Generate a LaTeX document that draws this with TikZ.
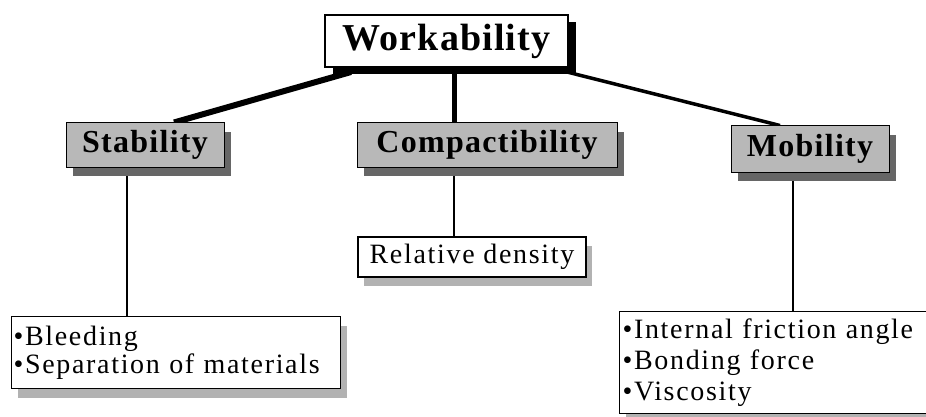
\documentclass[tikz,border=0pt]{standalone}
\usepackage{fontspec}
\setmainfont{Liberation Serif}
\newfontfamily\fontW{Liberation Serif}[LetterSpace=3]
\newfontfamily\fontM{Liberation Serif}[LetterSpace=4]
\newfontfamily\fontL{Liberation Serif}[LetterSpace=6]
\usetikzlibrary{shadows,backgrounds}
\begin{document}
\begin{tikzpicture}[x=1pt,y=-1pt,
  topbox/.style={draw=black, line width=2pt, fill=white, minimum width=243pt, minimum height=52pt, inner sep=0pt,
    drop shadow={shadow xshift=8pt, shadow yshift=-7pt, fill=black, opacity=1},
    font=\fontW\bfseries\fontsize{38}{42}\selectfont},
  midbox/.style={draw=black, line width=1pt, fill=black!28, minimum height=44pt, inner sep=0pt,
    drop shadow={shadow xshift=7pt, shadow yshift=-9pt, fill=black!60, opacity=1},
    font=\fontM\bfseries\fontsize{32}{36}\selectfont},
  leafbox/.style={draw=black, line width=1.2pt, fill=white, inner sep=0pt,
    drop shadow={shadow xshift=6pt, shadow yshift=-9pt, fill=black!30, opacity=1},
    font=\fontL\fontsize{28}{28}\selectfont},
  bigline/.style={line width=#1, black},
]
\useasboundingbox (0,0) rectangle (926,417);
\clip (0,0) rectangle (926,417);

\node[topbox] (W) at (446.5,41) {Workability};
\node[midbox, minimum width=158pt] (S) at (145,145) {Stability};
\node[midbox, minimum width=260pt] (C) at (487,145) {Compactibility};
\node[midbox, minimum width=158pt, minimum height=46pt] (M) at (810,149) {Mobility};

\node[leafbox, minimum width=228pt, minimum height=40pt] (R) at (472,257) {Relative density};
\node[leafbox, anchor=north west, text width=325pt, inner xsep=2pt, minimum height=72pt, align=left] (B) at (11,316)
  {•Bleeding\\•Separation of materials};
\node[leafbox, anchor=north west, text width=310pt, inner xsep=3pt, minimum height=102pt, align=left,
  font=\fontL\fontsize{28}{31}\selectfont] (I) at (619,311)
  {•Internal friction angle\\•Bonding force\\•Viscosity};

\begin{scope}[on background layer]
  \fill[white] (0,0) rectangle (926,417);
  \draw[bigline=6pt] ([xshift=-95.5pt,yshift=-4pt]W.south) -- ([xshift=29pt]S.north);
  \draw[bigline=5pt] ([xshift=7.5pt]W.south) -- ([xshift=7.5pt]W.south |- C.north);
  \draw[bigline=3.5pt] ([xshift=120.5pt,yshift=-4pt]W.south) -- ([xshift=-30pt]M.north);
  \draw[bigline=2pt] ([xshift=-18pt]S.south) -- ([xshift=-18pt]S.south |- B.north);
  \draw[bigline=2.5pt] ([xshift=-33pt]C.south) -- ([xshift=-33pt]C.south |- R.north);
  \draw[bigline=2pt] ([xshift=-17pt]M.south) -- ([xshift=-17pt]M.south |- I.north);
\end{scope}
\end{tikzpicture}
\end{document}
